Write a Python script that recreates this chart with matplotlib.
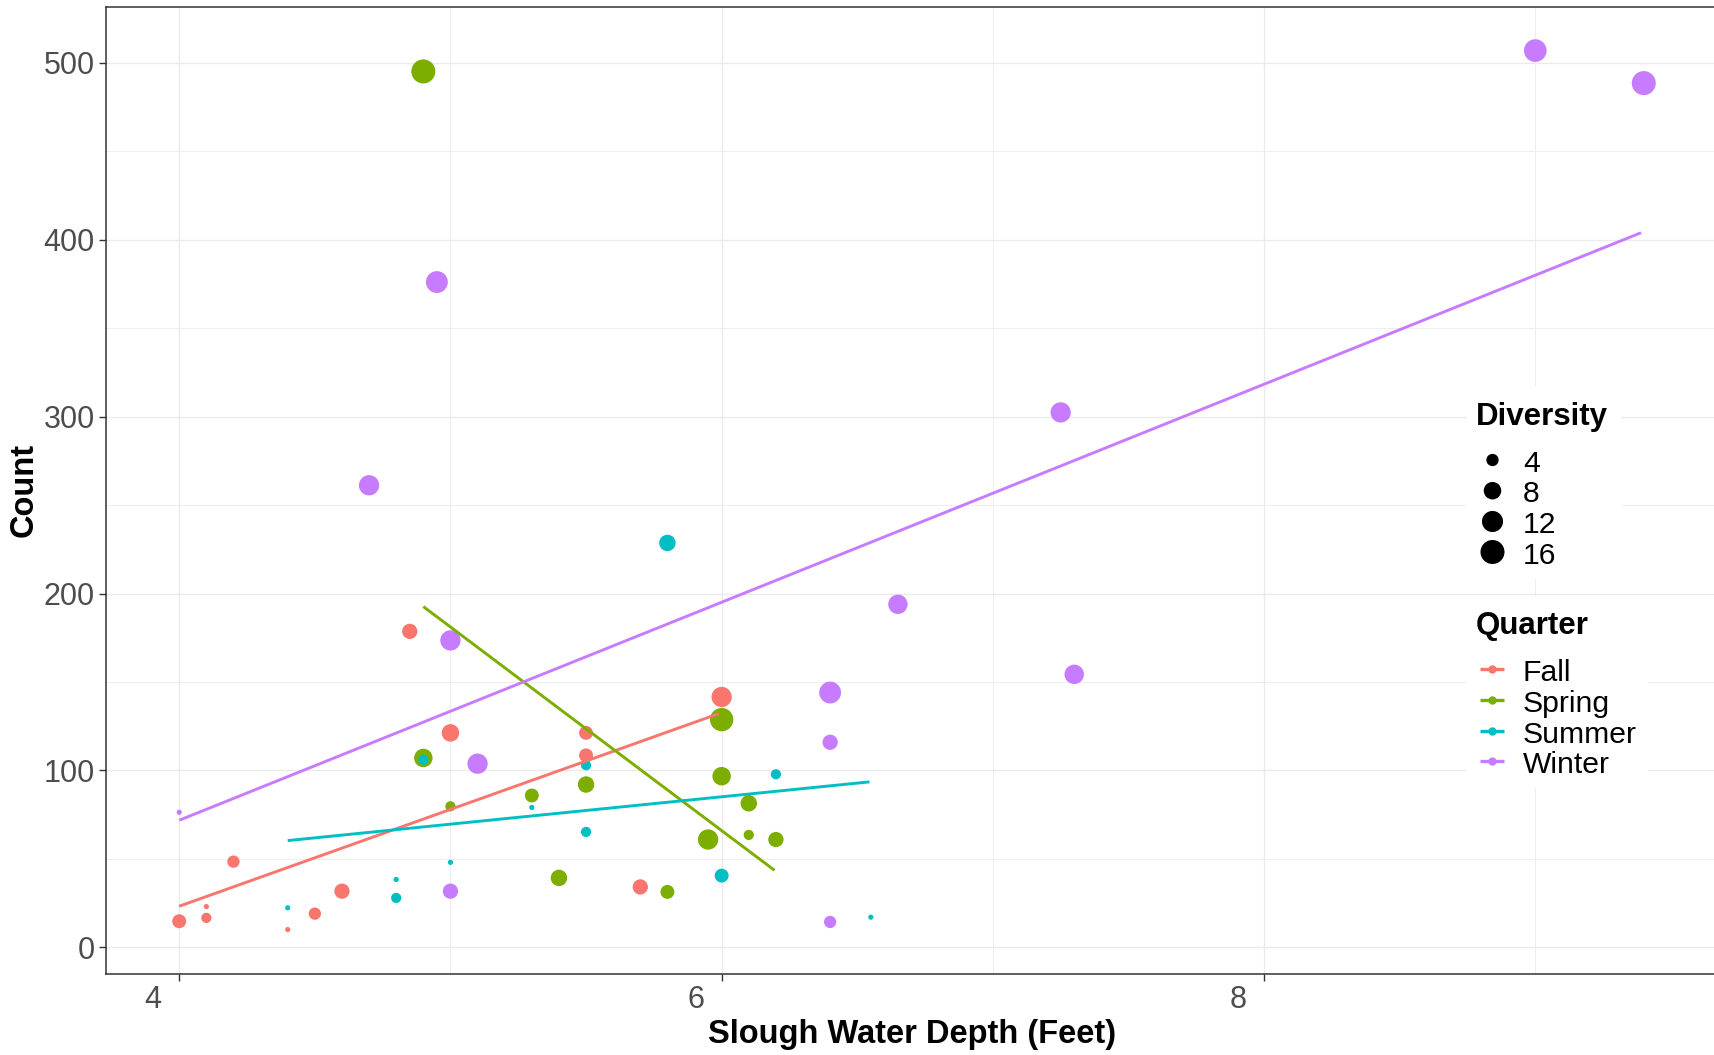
import numpy as np
import matplotlib
matplotlib.use('Agg')
import matplotlib.pyplot as plt
from matplotlib.transforms import ScaledTranslation

plt.rcParams['font.family'] = ['Liberation Sans', 'DejaVu Sans']

quarters = ['Fall', 'Spring', 'Summer', 'Winter']
colors = {'Fall': '#F8766D', 'Spring': '#7CAE00', 'Summer': '#00BFC4', 'Winter': '#C77CFF'}

# points: depth (ft), count, diversity
fall_depth = [4.85, 5.0, 4.2, 4.6, 4.5, 4.0, 4.1, 4.1, 4.4, 6.0, 5.5, 5.5, 5.7]
fall_count = [178.6, 121.2, 48.4, 31.7, 19.0, 14.7, 16.6, 23.0, 10.0, 141.5, 121.2, 108.5, 34.1]
fall_div = [6, 8, 4, 6, 4, 5, 3, 2, 2, 11, 5, 5, 6]

spring_depth = [4.9, 5.3, 5.0, 6.0, 5.5, 6.0, 6.1, 6.1, 5.95, 6.2, 5.4, 5.8, 4.9]
spring_count = [107.0, 85.8, 79.7, 128.7, 92.0, 96.7, 81.4, 63.5, 60.9, 60.9, 39.2, 31.3, 495.2]
spring_div = [9, 5, 3, 15, 7, 9, 7, 3, 11, 6, 7, 5, 16]

summer_depth = [4.9, 5.3, 5.0, 4.8, 4.8, 4.4, 5.5, 5.5, 6.2, 6.0, 6.55, 5.8]
summer_count = [106.0, 79.0, 48.0, 38.3, 27.9, 22.3, 102.9, 65.2, 97.8, 40.5, 17.0, 228.6]
summer_div = [3, 2, 2, 2, 3, 2, 3, 3, 3, 5, 2, 7]

winter_depth = [4.0, 4.7, 4.95, 5.0, 5.1, 5.0, 6.4, 6.4, 6.4, 6.65, 7.25, 7.3, 9.0, 9.4]
winter_count = [76.3, 261.2, 376.1, 173.5, 103.8, 31.7, 144.0, 115.9, 14.3, 193.9, 302.4, 154.3, 507.0, 488.6]
winter_div = [2, 11, 13, 11, 11, 6, 13, 6, 4, 10, 11, 10, 14, 16]

# linear fit lines as drawn on the chart (start / end)
trend_x = {'Fall': [4.0, 5.99], 'Spring': [4.9, 6.195], 'Summer': [4.4, 6.545], 'Winter': [4.0, 9.39]}
trend_y = {'Fall': [23.2, 132.1], 'Spring': [192.6, 43.5], 'Summer': [60.3, 93.5], 'Winter': [71.8, 404.0]}

size_breaks = [4, 8, 12, 16]

data = {
    'Fall': (fall_depth, fall_count, fall_div),
    'Spring': (spring_depth, spring_count, spring_div),
    'Summer': (summer_depth, summer_count, summer_div),
    'Winter': (winter_depth, winter_count, winter_div),
}


def div_px(d):
    # ggplot-like area scale, returns diameter in pixels (dpi 100)
    s = 1 + 5 * np.sqrt(np.clip((np.asarray(d, float) - 2) / 15, 0, 1))
    return 1.37 * (2.845 * s + 0.945)


def px_area(px):
    return (np.asarray(px) * 0.72) ** 2


W, H = 1715, 1055
fig = plt.figure(figsize=(W / 100, H / 100), dpi=100)
ax = fig.add_axes([106 / W, 1 - 973.5 / H, (W + 2 - 106) / W, (973.5 - 6.6) / H])

for q in quarters:
    x, y, d = data[q]
    ax.scatter(x, y, s=px_area(div_px(d)), color=colors[q], linewidths=0, zorder=3)
for q in quarters:
    ax.plot(trend_x[q], trend_y[q], color=colors[q], lw=2.1, zorder=4, solid_capstyle='butt')

all_x = np.concatenate([data[q][0] for q in quarters])
all_y = np.concatenate([data[q][1] for q in quarters])
xr = all_x.max() - all_x.min()
yr = all_y.max() - all_y.min()
ax.set_xlim(all_x.min() - 0.05 * xr, all_x.max() + 0.05 * xr)
ax.set_ylim(all_y.min() - 0.05 * yr, all_y.max() + 0.05 * yr)

ax.set_xticks([4, 6, 8])
ax.set_xticks([5, 7, 9], minor=True)
ax.set_yticks([0, 100, 200, 300, 400, 500])
ax.set_yticks([50, 150, 250, 350, 450], minor=True)
ax.grid(True, which='major', color='#EBEBEB', lw=1.0, zorder=0)
ax.grid(True, which='minor', color='#EBEBEB', lw=0.6, zorder=0)
ax.set_axisbelow(True)
for sp in ax.spines.values():
    sp.set_color('#333333')
    sp.set_linewidth(1.1)
ax.tick_params(which='major', length=5, width=1, color='#333333', labelsize=22, labelcolor='#4D4D4D', pad=3)
ax.tick_params(which='minor', length=0)

# x tick labels sit a little left of their ticks in the original
off = ScaledTranslation(-0.26, 0, fig.dpi_scale_trans)
for lab in ax.get_xticklabels():
    lab.set_transform(lab.get_transform() + off)

ax.set_xlabel('Slough Water Depth (Feet)', fontsize=23.5, fontweight='bold')
ax.set_ylabel('Count', fontsize=23.5, fontweight='bold')
ax.xaxis.set_label_coords((911 - 106) / (W - 106), -0.047)
ax.yaxis.set_label_coords((40 - 106) / (W - 106), 0.5)

# legends, drawn in figure pixel space
lax = fig.add_axes([0, 0, 1, 1], facecolor='none')
lax.set_xlim(0, W)
lax.set_ylim(H, 0)
lax.axis('off')

lax.add_patch(plt.Rectangle((1467, 387), 153, 190, color='white', zorder=1))
lax.text(1476, 425, 'Diversity', fontsize=22.5, fontweight='bold', va='baseline', ha='left', zorder=2)
div_rows = [460, 490.7, 521.5, 552]
lax.scatter([1492.5] * 4, div_rows, s=px_area(div_px(size_breaks)), color='black', linewidths=0, zorder=2)
for yy, b in zip(div_rows, size_breaks):
    lax.text(1523, yy + 11.5, str(b), fontsize=21.7, va='baseline', ha='left', zorder=2)

lax.add_patch(plt.Rectangle((1467, 597), 180, 190, color='white', zorder=1))
lax.text(1476, 634, 'Quarter', fontsize=22.5, fontweight='bold', va='baseline', ha='left', zorder=2)
q_rows = [669.3, 700, 730.7, 761.3]
for yy, q in zip(q_rows, quarters):
    lax.plot([1480, 1504], [yy, yy], color=colors[q], lw=2.4, zorder=2, solid_capstyle='butt')
    lax.plot([1492], [yy], marker='o', ms=5, color=colors[q], zorder=2)
    lax.text(1523, yy + 12, q, fontsize=21.7, va='baseline', ha='left', zorder=2)

fig.savefig('out.png', dpi=100)
